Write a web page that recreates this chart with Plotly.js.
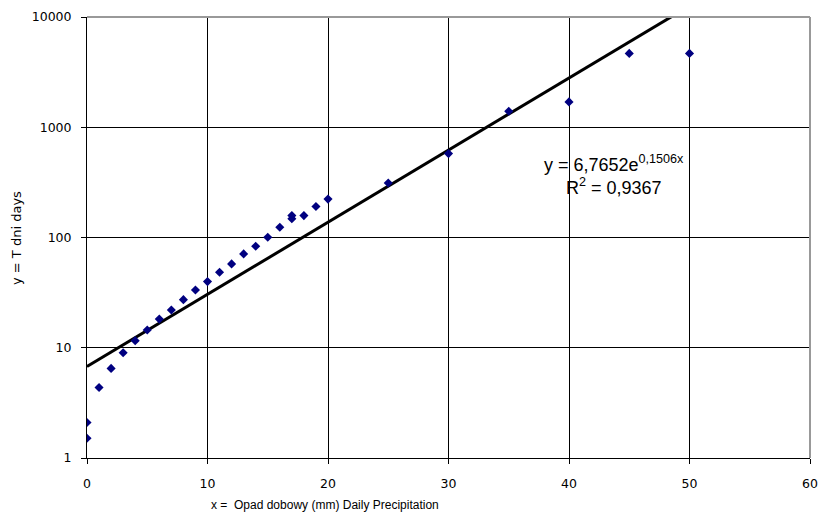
<!DOCTYPE html>
<html>
<head>
<meta charset="utf-8">
<script src="https://cdn.plot.ly/plotly-3.0.1.min.js"></script>
<style>html,body{margin:0;padding:0;background:#fff}#chart{width:820px;height:517px}</style>
</head>
<body>
<div id="chart"></div>
<script>
// Daily precipitation (mm) and return period T (days)
const precipX = [0, 0, 1, 2, 3, 4, 5, 6, 7, 8, 9, 10, 11, 12, 13, 14, 15, 16, 17, 17, 18, 19, 20, 25, 30, 35, 40, 45, 50];
const returnT = [1.51, 2.1, 4.36, 6.5, 9.0, 11.6, 14.5, 18.2, 22, 27.3, 33.4, 39.8, 48.4, 57.6, 71, 83.4, 100.6, 124, 148, 158, 158, 191, 223, 312, 577, 1397, 1698, 4677, 4677];
// Exponential trendline y = A * e^(B x)
const trendA = 6.7652;
const trendB = 0.1506;
const trendXRange = [0, 60];
const yTickVals = [1, 10, 100, 1000, 10000];
const yTickText = ['1', '10', '100', '1000', '10000'];
const xTickVals = [0, 10, 20, 30, 40, 50, 60];

const trendY = trendXRange.map(x => trendA * Math.exp(trendB * x));

const tickFont = {family: 'DejaVu Sans, Verdana, sans-serif', size: 12.5, color: '#000'};
const titleFont = {family: 'Liberation Sans, Arial, sans-serif', size: 12, color: '#000'};
const yTitleFont = {family: 'DejaVu Sans, Verdana, sans-serif', size: 13, color: '#000'};
const eqFont = {family: 'Liberation Sans, Arial, sans-serif', size: 18, color: '#000'};

const data = [
  {
    x: trendXRange, y: trendY, type: 'scatter', mode: 'lines',
    line: {color: '#000', width: 3}, hoverinfo: 'skip', showlegend: false
  },
  {
    x: precipX, y: returnT, type: 'scatter', mode: 'markers',
    marker: {symbol: 'diamond', color: '#000080', size: 7},
    showlegend: false
  }
];

const layout = {
  width: 820, height: 517,
  margin: {l: 87, r: 10, t: 17, b: 59},
  paper_bgcolor: '#fff', plot_bgcolor: '#fff',
  font: titleFont,
  showlegend: false,
  xaxis: {
    range: [0, 60], tickvals: xTickVals, ticktext: xTickVals.map(String),
    showgrid: true, gridcolor: '#000', gridwidth: 1,
    showline: true, linecolor: '#000', linewidth: 1,
    ticks: 'outside', ticklen: 5, tickcolor: '#000', ticklabelstandoff: 9,
    zeroline: false, tickfont: tickFont
  },
  yaxis: {
    type: 'log', range: [0, 4], tickvals: yTickVals, ticktext: yTickText,
    showgrid: true, gridcolor: '#000', gridwidth: 1,
    showline: true, linecolor: '#000', linewidth: 1,
    ticks: 'outside', ticklen: 5, tickcolor: '#000', ticklabelstandoff: 7,
    zeroline: false, tickfont: tickFont
  },
  shapes: [
    {type: 'line', xref: 'paper', yref: 'paper', x0: 0, x1: 1, y0: 1, y1: 1, line: {color: '#999', width: 2}, layer: 'above'},
    {type: 'line', xref: 'paper', yref: 'paper', x0: 1, x1: 1, y0: 0, y1: 1, line: {color: '#999', width: 2}, layer: 'above'}
  ],
  annotations: [
    {text: 'y = 6,7652e<sup>0,1506x</sup><br>R<sup>2</sup> = 0,9367', xref: 'paper', yref: 'paper',
     x: (614 - 87) / 723, y: (458 - 175) / 441, xanchor: 'center', yanchor: 'middle', align: 'center',
     showarrow: false, font: eqFont},
    {text: 'x =  Opad dobowy (mm) Daily Precipitation', xref: 'paper', yref: 'paper',
     x: (325 - 87) / 723, y: (458 - 505) / 441, xanchor: 'center', yanchor: 'middle',
     showarrow: false, font: titleFont},
    {text: 'y = T dni days', xref: 'paper', yref: 'paper', textangle: -90,
     x: (17 - 87) / 723, y: (458 - 238) / 441, xanchor: 'center', yanchor: 'middle',
     showarrow: false, font: yTitleFont}
  ]
};

Plotly.newPlot('chart', data, layout, {displayModeBar: false, staticPlot: true});
</script>
</body>
</html>
